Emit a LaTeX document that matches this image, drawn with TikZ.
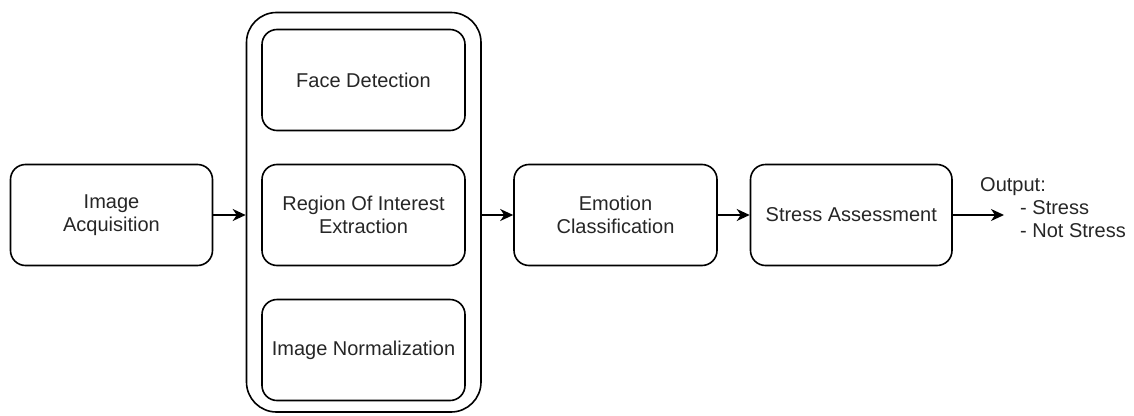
\documentclass[tikz,border=0pt]{standalone}
\usepackage{fontspec}
\setmainfont{Liberation Sans}
\usetikzlibrary{arrows.meta}

\tikzset{
  stage/.style={draw=black, line width=1.6pt, rounded corners=15pt,
    minimum height=101pt, align=center, inner sep=0pt,
    text=black!85, font=\fontsize{20}{23}\selectfont},
  group/.style={draw=black, line width=1.6pt, rounded corners=30pt,
    minimum width=234.5pt, minimum height=399.5pt, inner sep=0pt},
  flow/.style={line width=1.6pt, -{Stealth[length=13pt,width=12pt,inset=4pt]}},
  plain/.style={anchor=base west, inner sep=0pt, text=black!85,
    font=\fontsize{20}{23}\selectfont}
}

\begin{document}
\begin{tikzpicture}[x=1pt,y=-1pt]
  \useasboundingbox (0,0) rectangle (1134,415);

  % preprocessing group
  \node[group] (prep) at (363.75,212.25) {};
  \node[stage, minimum width=203pt] (face) at (363.5,80) {Face Detection};
  \node[stage, minimum width=203pt] (roi)  at (363.5,215) {Region Of Interest\\Extraction};
  \node[stage, minimum width=203pt] (norm) at (363.5,350) {Image Normalization};

  % pipeline stages
  \node[stage, minimum width=202pt] (acq)    at (111.5,215) {Image\\Acquisition};
  \node[stage, minimum width=203pt] (emo)    at (615.5,215) {Emotion\\Classification};
  \node[stage, minimum width=201.5pt] (stress) at (851.25,215) {Stress Assessment};

  % output description
  \node[plain] (out1) at (980,191) {Output:};
  \node[plain] (out2) at (1020,214) {- Stress};
  \node[plain] (out3) at (1020,237) {- Not Stress};
  \coordinate (outend) at (1004,215);

  % connectors
  \draw[flow] (acq.east) -- (acq.east -| prep.west);
  \draw[flow] (prep.east |- emo.west) -- (emo.west);
  \draw[flow] (emo.east) -- (stress.west);
  \draw[flow] (stress.east) -- (outend);
\end{tikzpicture}
\end{document}
